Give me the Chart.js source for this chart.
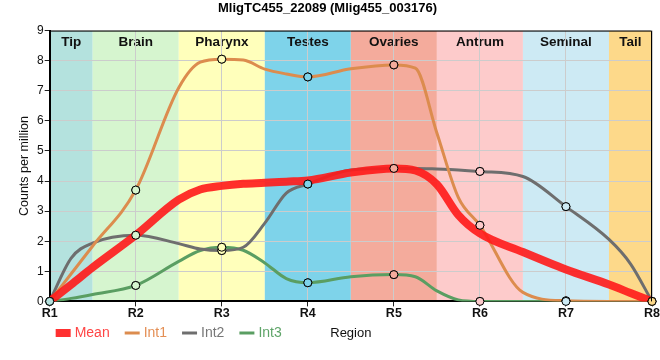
<!DOCTYPE html>
<html><head><meta charset="utf-8">
<script src="https://cdn.jsdelivr.net/npm/chart.js@4.4.0/dist/chart.umd.min.js"></script>
<style>html,body{margin:0;padding:0;background:#fff}#wrap{width:660px;height:360px}</style>
</head><body><div id="wrap"><canvas id="c" width="660" height="360"></canvas></div>
<script>
// ---- data ----
const regionLabels = ['R1','R2','R3','R4','R5','R6','R7','R8'];
const xs       = [1, 1.25, 1.5, 2, 2.5, 2.75, 3, 3.25, 3.5, 3.75, 4, 4.5, 5, 5.25, 5.5, 5.75, 6, 6.5, 7, 7.5, 7.75, 8];
const meanVals = [0, 0.56, 1.13, 2.2, 3.38, 3.72, 3.84, 3.91, 3.94, 3.98, 4.02, 4.28, 4.42, 4.35, 3.89, 2.87, 2.26, 1.64, 1.06, 0.56, 0.28, 0];
const int1Vals = [0, 0.92, 1.84, 3.7, 7.1, 7.95, 8.05, 8.02, 7.72, 7.56, 7.46, 7.73, 7.86, 7.75, 5.6, 3.45, 2.53, 0.3, 0.02, 0, 0, 0];
const int2Vals = [0, 1.44, 1.94, 2.2, 1.92, 1.74, 1.69, 1.8, 2.6, 3.6, 3.9, 4.37, 4.42, 4.42, 4.4, 4.37, 4.32, 4.15, 3.15, 2.06, 1.25, 0];
const int3Vals = [0, 0.1, 0.23, 0.53, 1.33, 1.69, 1.8, 1.7, 1.28, 0.76, 0.62, 0.82, 0.89, 0.82, 0.35, 0.05, 0, 0, 0, 0, 0, 0];
const bandNames = ['Tip','Brain','Pharynx','Testes','Ovaries','Antrum','Seminal','Tail'];
const bandFrom  = [1, 1.5, 2.5, 3.5, 4.5, 5.5, 6.5, 7.5];
const bandTo    = [1.5, 2.5, 3.5, 4.5, 5.5, 6.5, 7.5, 8];
const yTicks    = [0,1,2,3,4,5,6,7,8,9];

// ---- styles ----
const bandColors = ['#b4e2de','#d6f5cf','#ffffbb','#7ed3ea','#f4ab9c','#fdcbcb','#cdeaf4','#fdd98a'];
const COL = {mean:'rgba(255,25,25,0.9)', int1:'#dc8c4e', int2:'#6e6e6e', int3:'#5a9e62'};
const TXT = {mean:'#ff4545', int1:'#e48f55', int2:'#777777', int3:'#5ea468'};
const FONT = '"Liberation Sans", Arial, sans-serif';

function pts(vals){ return xs.map((x,i)=>({x:x, y:vals[i]})); }
function bandColorAt(x){
  for(let i=0;i<bandNames.length;i++){ if(x>=bandFrom[i] && x<=bandTo[i]) return bandColors[i]; }
  return '#fff';
}
const markerRadius = c => Number.isInteger(xs[c.dataIndex]) ? 4 : 0;
const markerFill = c => bandColorAt(xs[c.dataIndex]);

const bandPlugin = {
  id:'bands',
  beforeDraw(chart){
    const {ctx, chartArea:a, scales:{x}} = chart;
    ctx.save();
    for(let i=0;i<bandNames.length;i++){
      const l = x.getPixelForValue(bandFrom[i]), r = x.getPixelForValue(bandTo[i]);
      ctx.fillStyle = bandColors[i];
      ctx.fillRect(l, a.top, r-l, a.bottom-a.top);
    }
    ctx.fillStyle = '#111';
    ctx.font = 'bold 13.5px ' + FONT;
    ctx.textAlign = 'center'; ctx.textBaseline = 'middle';
    for(let i=0;i<bandNames.length;i++){
      const l = x.getPixelForValue(bandFrom[i]), r = x.getPixelForValue(bandTo[i]);
      ctx.fillText(bandNames[i], (l+r)/2, a.top+12);
    }
    ctx.restore();
  },
  afterDatasetsDraw(chart){
    const {ctx, chartArea:a} = chart;
    chart.data.datasets.forEach((ds,i)=>{
      const meta = chart.getDatasetMeta(i);
      if(!meta.hidden) meta.data.forEach(p=>p.draw(ctx, a));
    });
    ctx.save();
    ctx.strokeStyle = '#000'; ctx.lineWidth = 1;
    ctx.beginPath();
    ctx.moveTo(a.left, a.top+0.5); ctx.lineTo(a.right-0.5, a.top+0.5); ctx.lineTo(a.right-0.5, a.bottom);
    ctx.stroke();
    ctx.restore();
  },
  afterDraw(chart){
    const {ctx, scales:{x}, chartArea:a} = chart;
    const yc = x.bottom - 8;
    ctx.save();
    ctx.font = '14px ' + FONT;
    ctx.textBaseline = 'middle'; ctx.textAlign = 'left';
    let px = a.left + 6;
    chart.data.datasets.forEach(ds=>{
      ctx.strokeStyle = ds.borderColor; ctx.lineWidth = ds.borderWidth;
      ctx.beginPath(); ctx.moveTo(px, yc); ctx.lineTo(px+15, yc); ctx.stroke();
      ctx.fillStyle = ds.legendColor;
      ctx.fillText(ds.label, px+19, yc);
      px += 19 + ctx.measureText(ds.label).width + 15;
    });
    ctx.restore();
  }
};

new Chart(document.getElementById('c'), {
  type:'line',
  data:{ datasets:[
    {label:'Mean', data:pts(meanVals), borderColor:COL.mean, legendColor:TXT.mean, borderWidth:8, pointRadius:0, order:0, cubicInterpolationMode:'monotone'},
    {label:'Int1', data:pts(int1Vals), borderColor:COL.int1, legendColor:TXT.int1, borderWidth:3, order:1, cubicInterpolationMode:'monotone',
      pointRadius:markerRadius, pointBackgroundColor:markerFill, pointBorderColor:'#000', pointBorderWidth:1},
    {label:'Int2', data:pts(int2Vals), borderColor:COL.int2, legendColor:TXT.int2, borderWidth:3, order:2, cubicInterpolationMode:'monotone',
      pointRadius:markerRadius, pointBackgroundColor:markerFill, pointBorderColor:'#000', pointBorderWidth:1},
    {label:'Int3', data:pts(int3Vals), borderColor:COL.int3, legendColor:TXT.int3, borderWidth:3, order:3, cubicInterpolationMode:'monotone',
      pointRadius:markerRadius, pointBackgroundColor:markerFill, pointBorderColor:'#000', pointBorderWidth:1}
  ]},
  options:{
    responsive:false, animation:false, devicePixelRatio:1,
    layout:{padding:{left:3, right:8, top:0, bottom:19}},
    plugins:{
      legend:{display:false}, tooltip:{enabled:false},
      title:{display:true, text:'MligTC455_22089 (Mlig455_003176)', color:'#000',
        font:{family:FONT, size:13, weight:'bold'}, padding:{top:1, bottom:14}}
    },
    scales:{
      x:{type:'linear', min:1, max:8,
        afterBuildTicks(s){ s.ticks = regionLabels.map((_,i)=>({value:i+1})); },
        ticks:{callback:(v)=>regionLabels[v-1], color:'#111', padding:0, maxRotation:0,
          font:{family:FONT, size:12.5, weight:'bold'}},
        grid:{color:'#cccccc', tickColor:'#222', tickLength:5, lineWidth:1},
        border:{color:'#000', width:2},
        title:{display:true, text:'Region', color:'#111', padding:{top:4, bottom:0},
          font:{family:FONT, size:13}}
      },
      y:{type:'linear', min:0, max:9,
        afterBuildTicks(s){ s.ticks = yTicks.map(v=>({value:v})); },
        ticks:{color:'#111', padding:1, font:{family:FONT, size:12}},
        grid:{color:'#cccccc', tickColor:'#222', tickLength:5, lineWidth:1},
        border:{color:'#000', width:2},
        title:{display:true, text:'Counts per million', color:'#111', padding:{top:14,bottom:4},
          font:{family:FONT, size:12.5}}
      }
    }
  },
  plugins:[bandPlugin]
});
</script></body></html>
